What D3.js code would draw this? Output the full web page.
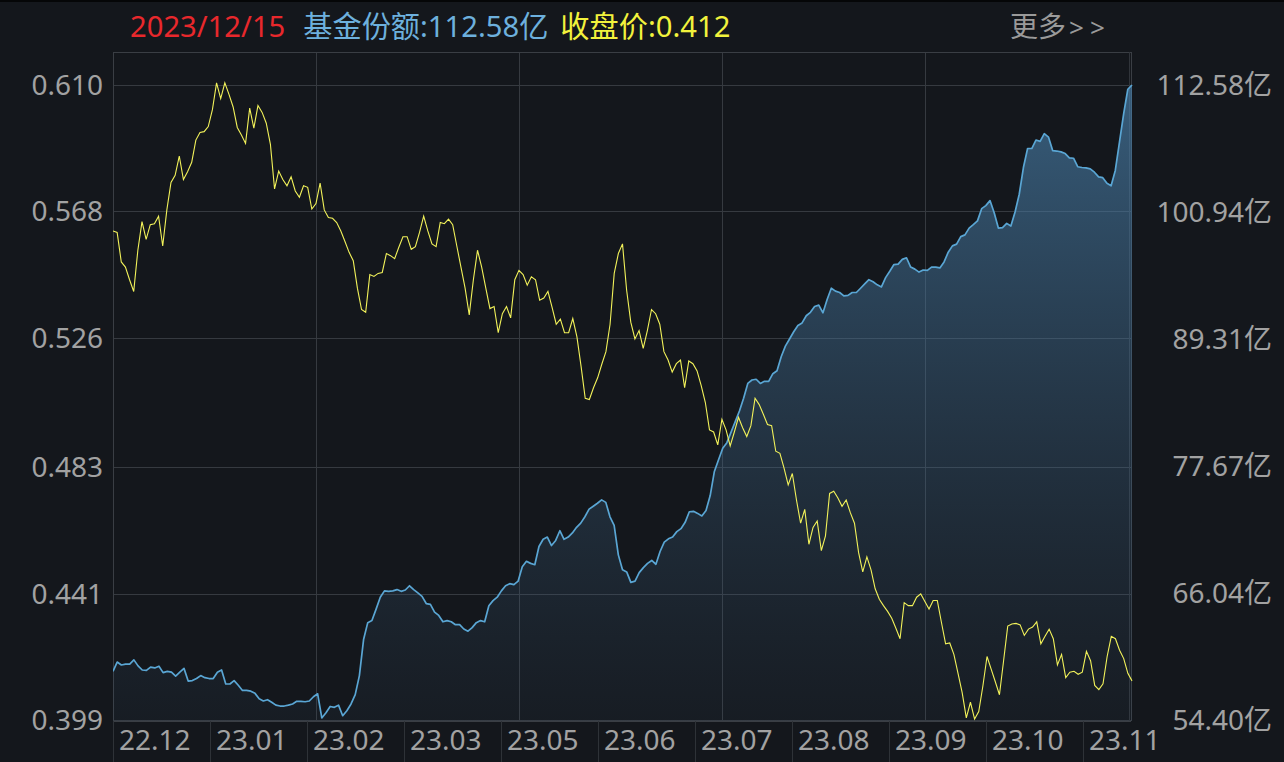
<!DOCTYPE html>
<html>
<head>
<meta charset="utf-8">
<script src="https://cdn.jsdelivr.net/npm/d3@7"></script>
<style>
html,body{margin:0;padding:0;background:#14171c;}
svg{display:block;}
text{font-family:"Noto Sans","Noto Sans CJK SC",sans-serif;}
</style>
</head>
<body>
<svg id="chart" width="1284" height="762"></svg>
<script>
// ---- data ----
const headerDate = "2023/12/15";
const headerShare = "基金份额:112.58亿";
const headerPrice = "收盘价:0.412";
const moreText = "更多";
const moreArrows = [">", ">"];

const xLabels = ["22.12","23.01","23.02","23.03","23.05","23.06","23.07","23.08","23.09","23.10","23.11"];
const leftTicks = [0.610,0.568,0.526,0.483,0.441,0.399];
const rightTicks = [112.58,100.94,89.31,77.67,66.04,54.40];

// closing price (left axis)
const price = [
0.5615,0.5610,0.5512,0.5495,0.5453,0.5414,0.5551,0.5646,0.5587,0.5636,0.5639,0.5664,0.5565,0.5685,0.5776,0.5800,0.5864,0.5786,0.5812,0.5843,
0.5917,0.5942,0.5945,0.5962,0.6018,0.6107,0.6055,0.6107,0.6069,0.6027,0.5959,0.5934,0.5906,0.6023,0.5957,0.6032,0.6009,0.5973,0.5903,0.5755,
0.5814,0.5786,0.5765,
0.5795,0.5748,0.5727,0.5765,0.5760,0.5688,0.5706,0.5774,0.5685,0.5660,0.5657,0.5643,0.5615,0.5580,0.5544,0.5516,0.5425,0.5354,0.5345,0.5470,
0.5464,0.5474,0.5477,0.5540,0.5533,0.5523,0.5561,0.5596,0.5596,0.5554,0.5563,0.5610,0.5664,0.5615,0.5572,0.5563,0.5643,0.5639,0.5654,0.5636,
0.5565,0.5495,0.5425,
0.5336,0.5453,0.5551,0.5495,0.5425,0.5357,0.5364,0.5277,0.5340,0.5364,0.5326,0.5453,0.5484,0.5470,0.5435,0.5463,0.5453,0.5385,0.5392,0.5414,
0.5361,0.5305,0.5322,0.5277,0.5277,0.5324,0.5263,0.5165,0.5059,0.5055,0.5094,0.5127,0.5172,0.5214,0.5305,0.5474,0.5540,0.5572,0.5418,0.5312,
0.5256,0.5284,
0.5225,0.5284,0.5354,0.5340,0.5305,0.5214,0.5186,0.5146,0.5174,0.5186,0.5094,0.5183,0.5174,0.5150,0.5101,0.5045,0.4954,0.4947,0.4904,0.4989,
0.4954,0.4901,0.4947,0.4996,0.4961,0.4932,0.4968,0.5059,0.5038,0.5006,0.4972,0.4968,0.4883,0.4876,0.4827,0.4771,0.4809,0.4721,0.4644,0.4690,
0.4574,0.4630,
0.4651,0.4553,0.4602,0.4743,0.4750,0.4728,0.4700,0.4721,0.4679,0.4644,0.4546,0.4482,0.4532,0.4489,0.4426,0.4391,0.4370,0.4351,0.4328,0.4295,
0.4260,0.4380,0.4370,0.4370,0.4398,0.4409,0.4384,0.4359,0.4387,0.4387,0.4314,0.4243,0.4246,0.4208,0.4145,0.4081,0.3997,0.4049,0.3993,0.4018,
0.4103,0.4201,
0.4159,0.4117,0.4074,0.4187,0.4302,0.4309,0.4311,0.4306,0.4271,0.4292,0.4299,0.4316,0.4243,0.4268,0.4292,0.4260,0.4173,0.4208,0.4131,0.4149,
0.4152,0.4142,0.4149,0.4218,0.4187,0.4105,0.4091,0.4110,0.4201,0.4268,0.4260,0.4222,0.4194,0.4145,0.4120
];

// fund shares, 亿 (right axis)
const shares = [
58.86,59.71,59.44,59.52,59.52,59.91,59.36,58.98,58.94,59.25,59.17,59.33,58.74,58.86,58.78,58.43,58.78,59.13,57.97,58.01,
58.20,58.47,58.28,58.20,58.20,58.78,58.98,57.70,57.70,58.01,57.58,57.11,57.11,57.04,56.84,56.34,56.14,56.26,56.03,55.76,
55.68,55.68,55.76,
55.87,56.11,56.11,56.07,56.14,56.53,56.80,54.59,55.06,55.64,55.56,55.76,54.79,55.25,55.87,56.73,58.47,61.77,63.32,63.51,
64.56,65.65,66.23,66.19,66.23,66.35,66.19,66.31,66.70,66.35,66.04,65.73,65.07,65.00,64.29,63.98,63.40,63.51,63.40,63.13,
63.13,62.74,
62.54,62.86,63.32,63.51,63.40,64.87,65.34,65.65,66.23,66.70,66.89,66.81,67.12,68.44,68.94,68.75,68.63,70.30,70.96,71.16,
70.38,70.85,71.74,70.96,71.16,71.54,72.05,72.44,73.02,73.72,73.99,74.26,74.57,74.34,73.02,72.24,69.53,68.17,67.97,67.01,
67.12,67.90,
68.36,68.75,69.02,68.67,69.84,70.69,71.00,71.16,71.66,71.93,72.51,73.48,73.52,73.33,73.10,73.60,74.96,77.17,78.25,79.30,
79.81,80.77,81.74,82.71,83.88,85.24,85.55,85.62,85.24,85.43,85.43,86.13,86.40,87.68,88.65,89.31,89.97,90.55,90.78,91.44,
91.75,92.29,
92.41,91.71,92.92,93.96,93.69,93.57,93.26,93.30,93.57,93.57,93.96,94.35,94.74,94.55,94.27,94.08,94.93,95.51,96.13,96.17,
96.60,96.75,95.90,95.71,95.44,95.63,95.59,95.90,95.90,95.82,96.37,97.26,97.84,98.00,98.69,98.85,99.47,99.78,100.13,101.25,
101.53,101.99,
100.87,99.47,99.51,99.90,99.66,100.94,102.57,105.02,106.76,106.76,107.54,107.42,108.12,107.81,106.57,106.53,106.45,106.30,105.91,105.87,
105.09,105.02,104.98,104.90,104.59,104.16,104.09,103.58,103.35,104.75,107.34,109.94,112.19,112.58
];

// ---- layout ----
const W = 1284, H = 762;
const L = 113, R = 1131, T = 52, B = 721;
const yTop = 85, yBot = 720;

const svg = d3.select("#chart");
svg.append("rect").attr("width", W).attr("height", H).attr("fill", "#14171c");
svg.append("rect").attr("width", W).attr("height", 2).attr("fill", "#050607");

const yL = d3.scaleLinear().domain([0.399, 0.610]).range([yBot, yTop]);
const yR = d3.scaleLinear().domain([54.40, 112.58]).range([yBot, yTop]);
const xP = d3.scaleLinear().domain([0, price.length - 1]).range([L, R + 1]);
const xS = d3.scaleLinear().domain([0, shares.length - 1]).range([L, R + 1]);
const xGrid = d3.scaleLinear().domain([0, 5]).range([L, 1128]);
const xBand = d3.scaleBand().domain(xLabels).range([L, L + 97 * xLabels.length]);

const gridColor = "#363a40";
const textColor = "#a2a2a2";

// gradient
const defs = svg.append("defs");
const grad = defs.append("linearGradient").attr("id", "areaGrad")
  .attr("gradientUnits", "userSpaceOnUse").attr("x1", 0).attr("y1", yTop).attr("x2", 0).attr("y2", yBot);
grad.append("stop").attr("offset", "0%").attr("stop-color", "#4d88b6").attr("stop-opacity", 0.62);
grad.append("stop").attr("offset", "100%").attr("stop-color", "#3a5a78").attr("stop-opacity", 0.08);

const clip = defs.append("clipPath").attr("id", "plotClip");
clip.append("rect").attr("x", L).attr("y", T).attr("width", R - L + 2).attr("height", B - T);

// horizontal gridlines
svg.append("g").selectAll("line").data(leftTicks).join("line")
  .attr("x1", L).attr("x2", R).attr("y1", d => Math.round(yL(d)) + 0.5).attr("y2", d => Math.round(yL(d)) + 0.5)
  .attr("stroke", gridColor).attr("stroke-width", 1);

// vertical gridlines
svg.append("g").selectAll("line").data(d3.range(1, 5)).join("line")
  .attr("x1", d => Math.round(xGrid(d)) + 0.5).attr("x2", d => Math.round(xGrid(d)) + 0.5)
  .attr("y1", T).attr("y2", B)
  .attr("stroke", gridColor).attr("stroke-width", 1);

// plot frame
svg.append("line").attr("x1", L).attr("x2", R).attr("y1", T + 0.5).attr("y2", T + 0.5).attr("stroke", "#3a3e44");
svg.append("line").attr("x1", L + 0.5).attr("x2", L + 0.5).attr("y1", T).attr("y2", H).attr("stroke", "#3a3e44");
svg.append("line").attr("x1", R - 1.5).attr("x2", R - 1.5).attr("y1", T).attr("y2", B).attr("stroke", "#30343a");
svg.append("line").attr("x1", R + 0.5).attr("x2", R + 0.5).attr("y1", T).attr("y2", B).attr("stroke", "#3a3e44");
svg.append("line").attr("x1", L).attr("x2", R).attr("y1", B + 0.5).attr("y2", B + 0.5).attr("stroke", "#3a3e44");

// area + lines
const gPlot = svg.append("g").attr("clip-path", "url(#plotClip)");
const area = d3.area().x((d, i) => xS(i)).y0(yBot + 2).y1(d => yR(d));
gPlot.append("path").datum(shares).attr("d", area).attr("fill", "url(#areaGrad)");
const lineS = d3.line().x((d, i) => xS(i)).y(d => yR(d));
gPlot.append("path").datum(shares).attr("d", lineS).attr("fill", "none")
  .attr("stroke", "#5aa6d4").attr("stroke-width", 1.7).attr("stroke-linejoin", "round");
const lineP = d3.line().x((d, i) => xP(i)).y(d => yL(d));
gPlot.append("path").datum(price).attr("d", lineP).attr("fill", "none")
  .attr("stroke", "#f2f25a").attr("stroke-width", 1.1).attr("stroke-linejoin", "miter");

// left axis labels
svg.append("g").selectAll("text").data(leftTicks).join("text")
  .attr("x", 103).attr("y", d => yL(d)).attr("dy", "0.36em")
  .attr("text-anchor", "end").attr("font-size", 28).attr("fill", textColor)
  .text(d => d3.format(".3f")(d));

// right axis labels
svg.append("g").selectAll("text").data(rightTicks).join("text")
  .attr("x", 1272).attr("y", d => yR(d)).attr("dy", "0.36em")
  .attr("text-anchor", "end").attr("font-size", 28).attr("fill", textColor)
  .text(d => d3.format(".2f")(d) + "亿");

// x label band
svg.append("g").selectAll("line").data(xLabels).join("line")
  .attr("x1", d => Math.round(xBand(d)) + 0.5).attr("x2", d => Math.round(xBand(d)) + 0.5)
  .attr("y1", B).attr("y2", H).attr("stroke", "#2e3237");
svg.append("g").selectAll("text").data(xLabels).join("text")
  .attr("x", d => xBand(d) + 6).attr("y", 740).attr("dy", "0.36em")
  .attr("font-size", 28).attr("fill", textColor).text(d => d);

// header
const header = svg.append("text").attr("x", 130).attr("y", 26).attr("dy", "0.36em").attr("font-size", 29.2);
header.append("tspan").attr("fill", "#e8282c").text(headerDate);
header.append("tspan").attr("dx", 18).attr("fill", "#6db0dd").text(headerShare);
header.append("tspan").attr("dx", 12).attr("fill", "#f2f23c").text(headerPrice);
const more = svg.append("text").attr("x", 1010).attr("y", 27).attr("dy", "0.36em").attr("font-size", 28)
  .attr("fill", "#9a9a9a");
more.append("tspan").text(moreText);
moreArrows.forEach((a, i) => more.append("tspan").attr("dx", i === 0 ? 3 : 6).attr("font-size", 26).text(a));
</script>
</body>
</html>
